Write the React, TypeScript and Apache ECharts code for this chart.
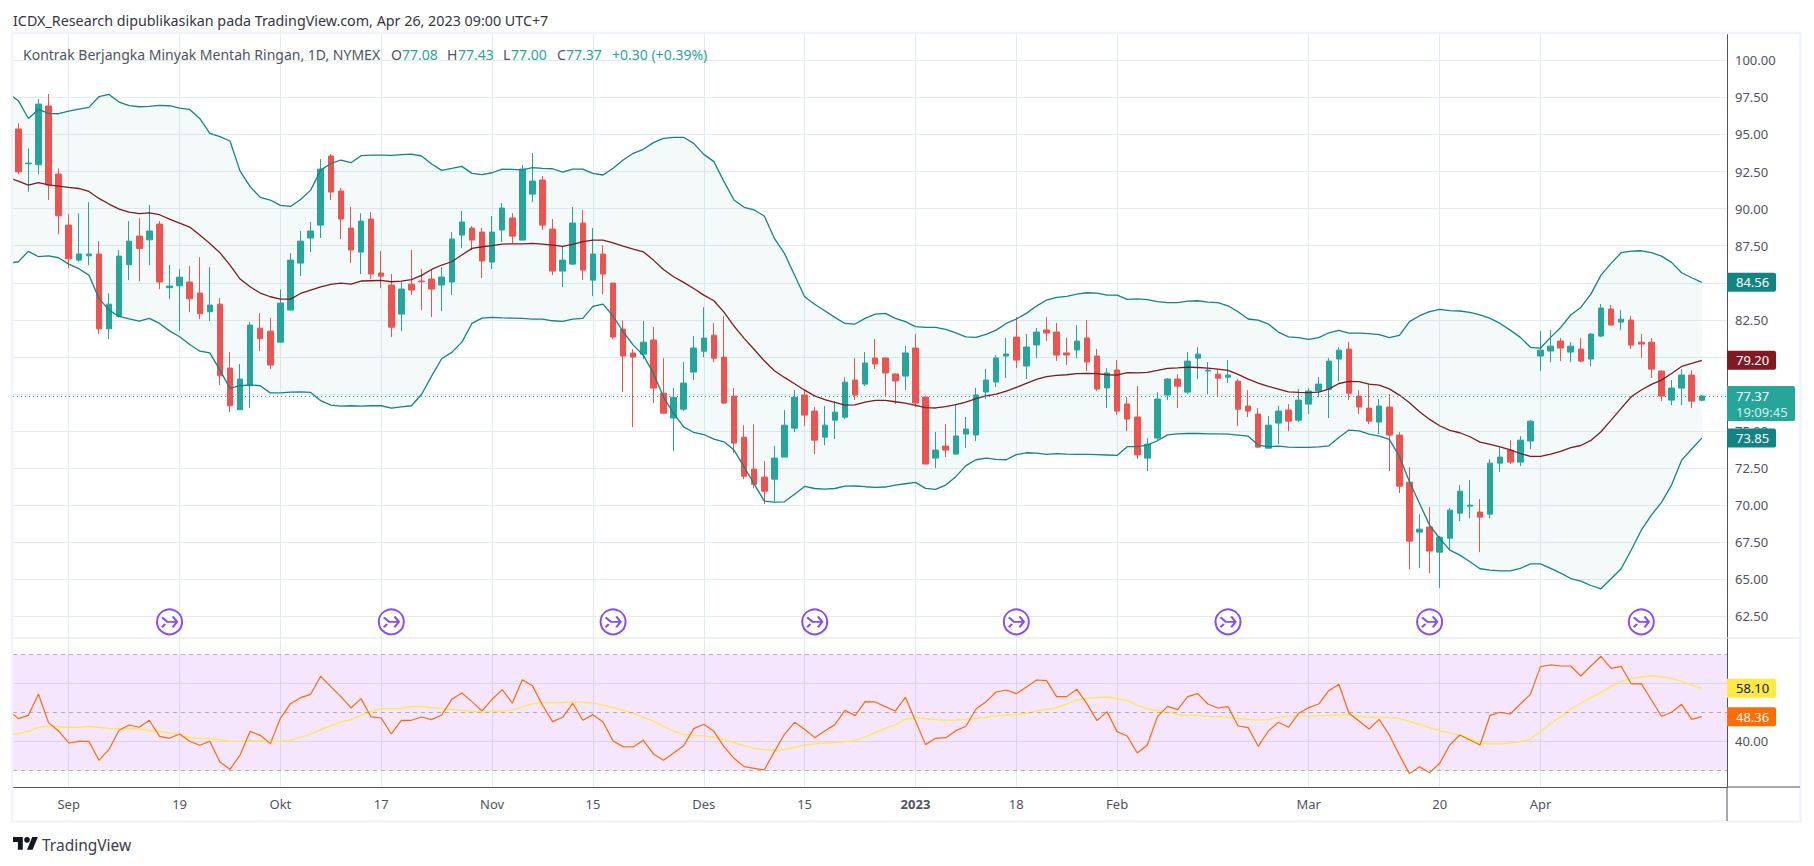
import React, { useEffect, useRef } from "react";
import * as echarts from "echarts";

const opens = [
95.37,93.03,92.96,96.92,92.33,88.89,86.53,86.82,86.94,81.9,
82.75,86.22,88.15,87.9,88.96,84.67,84.8,85.05,84.31,83.05,
83.56,79.25,76.44,78.06,81.94,81.74,81.0,83.16,86.33,88.02,
88.89,93.55,91.19,88.69,87.07,89.3,85.66,84.85,82.89,84.91,
85.12,85.25,84.85,85.05,88.22,88.69,88.42,86.4,88.56,89.37,
87.88,90.98,91.93,88.62,85.79,86.26,89.03,85.18,86.94,84.98,
81.88,80.26,80.19,81.14,77.56,75.88,76.48,78.98,80.39,81.47,
79.99,77.36,74.59,72.44,71.9,71.76,73.25,75.2,77.43,76.35,
74.59,75.74,75.94,78.44,78.17,79.93,79.93,78.85,78.71,80.6,
77.3,73.18,73.99,73.45,74.8,74.74,77.64,78.31,80.06,81.34,
79.39,80.81,81.82,81.68,80.27,80.47,81.28,80.06,77.91,79.12,
76.83,75.95,73.18,74.53,77.43,78.51,77.63,79.92,79.05,78.84,
78.64,78.37,76.69,76.15,73.85,75.54,76.42,75.74,76.82,77.7,
77.83,79.86,80.53,77.36,76.55,75.61,76.62,74.73,71.56,68.19,
68.53,66.84,67.78,69.47,69.94,69.54,69.4,72.84,73.72,72.91,
74.33,80.06,80.4,81.07,80.33,80.53,79.86,81.41,83.23,82.35,
82.49,81.0,81.0,79.05,77.09,77.9,78.78,77.08];
const closes = [
92.49,93.07,97.05,91.59,89.52,86.62,86.94,86.94,81.9,83.56,
86.8,87.81,87.32,88.49,85.05,84.78,85.38,83.92,82.91,83.5,
78.73,76.71,78.51,82.15,81.23,79.45,83.63,86.53,87.81,88.49,
92.67,91.12,89.3,87.21,89.16,85.59,85.45,82.01,84.58,84.51,
85.07,84.58,85.39,87.95,89.1,87.88,86.47,88.42,90.04,88.15,
92.67,91.86,88.89,85.79,86.53,89.03,85.86,86.94,85.59,81.34,
80.06,79.99,81.0,77.9,76.21,77.29,78.24,80.6,81.27,79.92,
76.89,74.19,71.96,71.42,70.95,73.18,75.4,77.29,76.08,74.39,
75.4,76.28,78.3,77.43,79.59,79.52,78.92,78.38,80.27,76.89,
72.78,73.72,73.72,74.67,75.14,77.43,78.44,79.93,80.2,79.79,
80.67,81.68,81.61,80.13,80.13,81.07,79.66,77.84,78.92,76.35,
75.81,73.39,74.12,77.16,78.51,78.03,79.72,80.19,79.11,78.57,
78.78,76.48,76.35,73.92,75.4,76.35,75.67,77.09,77.7,78.17,
79.72,80.46,77.56,76.62,75.67,76.69,74.73,71.29,67.58,68.39,
66.91,67.85,69.67,70.95,70.01,69.2,72.84,73.25,72.91,74.39,
75.67,80.46,80.73,80.6,80.73,79.72,81.54,83.3,82.15,82.55,
80.8,80.87,79.18,77.36,77.9,78.78,77.02,77.37];
const lows = [
92.33,91.14,92.33,90.58,88.28,85.99,86.42,86.19,81.54,81.2,
82.66,85.18,85.11,86.19,84.57,83.9,81.74,83.02,82.55,82.42,
78.1,76.28,76.42,76.55,80.39,79.18,80.93,83.16,85.45,87.07,
88.02,90.58,87.95,86.33,85.59,85.25,84.64,81.34,81.74,84.17,
83.16,82.69,83.09,84.17,87.34,87.21,85.32,85.93,87.75,87.66,
87.88,90.44,88.56,85.52,84.71,86.2,85.19,84.1,84.24,81.23,
77.63,75.27,79.85,76.89,76.21,73.65,76.35,78.44,79.99,79.65,
76.82,73.52,71.76,71.15,70.08,70.28,73.25,74.93,75.34,73.45,
74.05,74.46,75.81,77.09,78.04,79.19,77.37,76.83,77.77,76.62,
72.78,72.51,73.25,73.45,73.86,74.33,77.16,77.97,78.58,79.25,
78.51,79.93,81.07,79.73,79.46,79.93,79.05,77.7,76.56,76.08,
75.0,73.12,72.3,74.39,77.09,76.55,77.49,78.51,77.49,77.29,
78.24,75.34,75.94,73.85,73.85,74.12,75.0,75.61,76.15,77.29,
75.88,78.37,77.09,76.15,75.47,74.8,72.3,70.82,65.69,65.76,
65.42,64.41,66.98,68.93,69.13,66.84,69.13,72.24,72.78,72.64,
73.79,79.05,79.65,79.72,79.65,79.65,79.38,81.34,82.15,81.81,
80.53,79.92,78.58,77.02,76.75,76.75,76.55,77.0];
const highs = [
95.75,94.06,97.39,97.73,92.71,89.63,89.68,90.44,87.81,84.28,
87.2,89.16,89.36,90.24,89.16,86.19,85.92,86.13,86.73,86.06,
83.97,80.33,79.52,82.35,82.96,82.62,84.55,87.0,88.49,89.1,
93.34,93.68,91.39,90.11,89.68,89.77,87.14,85.59,85.05,87.21,
85.93,85.86,86.06,88.42,89.84,88.83,88.69,89.5,90.38,89.7,
92.94,93.75,92.2,89.3,87.48,90.11,89.91,88.69,87.54,85.0,
82.48,80.53,82.42,82.01,79.92,77.9,79.65,81.41,83.36,82.28,
82.75,77.9,75.4,75.47,72.98,74.0,76.42,77.76,77.83,76.62,
76.69,77.02,78.64,79.92,80.33,81.21,79.95,78.9,80.74,81.55,
77.4,74.94,75.48,76.76,75.95,77.91,79.19,80.13,81.28,82.69,
81.55,81.95,82.69,82.29,81.28,82.15,82.49,80.54,79.25,79.79,
77.3,78.04,74.53,77.63,78.57,78.84,80.33,80.66,79.65,79.18,
79.79,78.51,77.76,76.55,76.01,76.69,76.82,77.83,77.9,78.64,
79.92,80.66,81.0,77.76,78.17,77.16,77.49,74.93,72.57,69.4,
69.88,67.92,69.81,71.36,71.7,70.41,73.11,73.92,74.39,74.66,
75.74,81.74,81.81,81.27,81.0,81.27,81.61,83.57,83.5,83.16,
82.76,81.54,81.27,79.11,78.44,79.18,79.11,77.43];

// bands and RSI begin one bar before the first candle (they run off the left edge)
const upperBand = [97.77,
97.28,96.08,96.69,96.42,96.4,96.58,96.71,96.83,97.55,97.7,
97.19,96.94,96.87,96.89,96.96,96.94,96.78,96.69,96.08,95.07,
94.85,94.56,92.53,91.48,90.76,90.58,90.22,90.15,90.62,91.25,
92.6,93.05,93.28,93.1,93.57,93.61,93.61,93.59,93.64,93.68,
93.55,93.01,92.58,92.71,92.85,92.38,92.29,92.42,92.67,92.65,
92.62,92.76,92.71,92.69,92.47,92.67,92.67,92.38,92.27,92.72,
93.28,93.73,94.0,94.45,94.74,94.81,94.81,94.4,93.66,93.17,
91.82,90.58,90.09,89.91,89.5,88.0,86.98,85.52,84.06,83.55,
83.12,82.67,82.26,82.22,82.6,82.89,82.94,82.6,82.38,82.04,
81.99,81.99,81.86,81.63,81.36,81.32,81.52,81.81,82.26,82.56,
82.94,83.43,83.84,84.02,84.09,84.24,84.33,84.31,84.17,84.17,
83.88,83.91,83.86,83.73,83.66,83.66,83.77,83.79,83.7,83.66,
83.45,83.05,82.56,82.49,82.22,81.68,81.36,81.3,81.18,81.3,
81.63,81.79,81.61,81.61,81.57,81.5,81.3,81.45,82.38,82.78,
83.05,83.21,83.12,83.1,83.01,82.83,82.6,82.26,81.81,81.32,
80.65,80.6,81.32,81.99,82.83,83.34,84.24,85.52,86.31,87.03,
87.14,87.16,87.03,86.8,86.38,85.68,85.34,85.03];
const basisBand = [92.1,
91.86,91.59,91.75,91.61,91.52,91.43,91.36,91.16,90.69,90.31,
89.97,89.77,89.66,89.72,89.59,89.3,89.03,88.76,88.22,87.65,
87.03,86.19,85.25,84.73,84.31,84.06,83.9,83.9,84.28,84.51,
84.73,84.89,84.98,84.91,85.12,85.14,85.16,85.07,85.12,85.21,
85.5,85.9,86.2,86.42,86.87,87.32,87.43,87.5,87.61,87.63,
87.63,87.66,87.61,87.54,87.45,87.59,87.77,87.88,87.88,87.7,
87.48,87.27,87.09,86.53,85.9,85.41,85.03,84.62,84.17,83.79,
83.02,82.08,81.25,80.5,79.74,79.07,78.62,78.19,77.76,77.38,
77.13,76.93,76.75,76.77,76.96,77.07,77.07,76.98,76.89,76.74,
76.58,76.56,76.65,76.78,76.96,77.19,77.37,77.5,77.7,77.95,
78.22,78.49,78.67,78.76,78.8,78.87,78.89,78.87,78.8,78.78,
78.94,78.92,78.96,79.09,79.23,79.27,79.32,79.29,79.25,79.18,
79.09,78.82,78.51,78.24,78.01,77.83,77.65,77.61,77.59,77.63,
77.83,78.21,78.35,78.33,78.17,78.1,77.85,77.43,76.91,76.3,
75.79,75.36,75.05,74.89,74.62,74.26,74.1,73.94,73.74,73.49,
73.3,73.3,73.45,73.63,73.88,74.03,74.37,74.96,75.74,76.53,
77.32,77.77,78.15,78.44,78.89,79.36,79.56,79.77];
const lowerBand = [86.31,
86.42,87.12,86.76,86.82,86.69,86.26,85.95,85.52,83.95,83.16,
82.73,82.57,82.42,82.6,82.26,81.76,81.36,80.84,80.39,80.28,
79.11,77.88,78.06,78.12,78.06,77.58,77.58,77.63,77.65,77.61,
77.05,76.75,76.69,76.71,76.69,76.71,76.71,76.55,76.64,76.71,
77.47,78.71,79.88,80.31,81.0,82.26,82.62,82.67,82.64,82.62,
82.6,82.55,82.55,82.44,82.4,82.55,82.6,83.41,83.56,82.75,
81.7,80.8,80.12,78.89,77.31,76.19,75.29,74.91,74.77,74.46,
74.28,73.72,72.59,71.42,70.28,70.21,70.23,70.75,71.27,71.13,
71.09,71.13,71.29,71.3,71.25,71.21,71.23,71.36,71.45,71.54,
71.14,71.07,71.36,71.93,72.67,73.07,73.18,73.09,73.07,73.41,
73.54,73.52,73.43,73.48,73.45,73.43,73.43,73.41,73.39,73.36,
73.95,73.95,74.06,74.35,74.75,74.82,74.84,74.84,74.82,74.82,
74.8,74.73,74.66,74.06,73.94,73.99,73.92,73.9,73.9,73.94,
74.01,74.57,75.07,75.02,74.8,74.66,74.44,73.3,71.58,70.12,
68.66,67.76,66.98,66.64,66.19,65.72,65.63,65.58,65.58,65.74,
66.05,66.05,65.74,65.42,65.06,64.88,64.59,64.37,65.04,65.72,
66.98,68.32,69.34,70.19,71.36,73.04,73.79,74.53];
const rsiValues = [50.8,
47.81,48.96,56.32,46.43,43.56,39.42,40.0,40.0,33.45,37.24,
43.79,45.63,44.83,47.24,41.72,41.03,42.53,40.0,38.62,40.0,
32.87,30.34,35.28,43.44,42.06,39.19,47.93,52.98,55.05,56.2,
62.41,58.85,55.4,51.49,54.71,48.39,48.04,42.53,47.24,47.24,
48.39,47.47,49.08,54.48,56.66,53.67,50.46,54.48,57.81,53.2,
61.26,59.19,52.41,46.78,48.27,53.1,47.24,49.19,46.66,40.11,
38.16,38.04,40.34,35.63,33.45,35.97,38.5,44.36,45.86,43.44,
38.16,34.13,31.26,30.69,30.11,36.43,42.41,46.55,44.14,41.26,
43.56,45.75,50.69,48.85,53.67,53.56,51.95,50.46,55.17,47.0,
38.85,41.03,41.26,43.67,45.17,51.15,53.67,57.01,57.7,56.43,
58.73,61.14,60.91,55.4,55.4,57.93,52.98,47.12,50.23,43.33,
41.83,35.97,38.73,48.5,52.06,50.91,55.4,56.43,52.87,51.49,
51.95,45.28,44.71,38.27,43.56,46.55,44.83,49.65,51.6,52.87,
57.47,59.65,49.65,47.0,44.25,47.58,42.18,35.28,28.85,31.26,
29.19,32.41,38.73,42.18,40.46,38.73,48.96,50.0,49.42,52.87,
56.2,65.74,66.32,65.97,65.97,62.53,65.97,69.31,65.17,65.86,
59.77,59.88,54.25,48.62,50.0,52.75,47.58,48.5];
const rsiAverage = [41.95,
42.64,43.44,44.83,45.28,45.05,44.83,44.83,45.17,44.83,44.48,
44.36,44.48,44.25,43.79,43.44,42.87,41.95,41.26,41.03,41.03,
40.57,40.0,40.11,40.34,40.23,40.0,40.11,40.34,41.38,42.53,
44.02,45.4,46.66,47.47,49.08,50.23,51.26,51.26,51.38,52.06,
52.06,51.6,51.26,51.03,50.69,50.34,50.11,50.34,50.46,50.8,
51.83,52.98,53.33,53.33,53.33,53.56,53.44,53.2,52.52,51.6,
50.69,49.65,48.27,47.0,45.17,43.56,42.41,42.06,41.83,41.38,
40.69,39.54,38.5,37.59,37.13,36.89,37.13,37.93,38.73,39.08,
39.42,39.54,39.88,40.23,41.49,42.99,44.48,45.63,47.58,48.16,
47.81,47.47,47.24,47.35,47.58,47.93,48.27,48.73,49.08,49.31,
49.65,50.46,51.03,51.6,52.87,54.25,54.82,55.05,55.28,54.82,
54.02,52.52,51.15,50.57,50.0,49.31,48.96,48.96,48.62,48.5,
48.27,47.93,47.58,47.35,47.47,48.27,48.73,48.73,48.73,48.85,
48.96,49.19,49.08,48.62,48.27,48.27,48.16,47.93,46.89,45.86,
44.71,43.67,42.87,42.18,41.03,39.31,39.08,39.08,39.42,39.88,
40.8,43.33,46.2,48.5,51.03,53.1,55.05,56.89,58.85,60.69,
61.49,62.29,62.53,62.29,61.72,60.69,59.42,58.27];

const priceTicks = [62.5,65,67.5,70,72.5,75,77.5,80,82.5,85,87.5,90,92.5,95,97.5,100];
const rsiTicks = [40,60];
const dateTickBars = [5,16,26,36,47,57,68,78,89,99,109,128,141,151];
const dateTickLabels = ["Sep","19","Okt","17","Nov","15","Des","15","2023","18","Feb","Mar","20","Apr"];
const rolloverBars = [15,37,59,79,99,120,140,161];
const rolloverLevel = 62.14;
const lastPrice = 77.37;
const rsiLevels = [70,50,30];

const TEXT = "#50535e";
const GRID = "#e3ecf2";
const UP = "#26a69a";
const DOWN = "#ef5350";
const BAND = "#138484";
const BASIS = "#801922";
const FONT = "'Noto Sans', sans-serif";

echarts.graphic.registerShape(
  "tvLogo",
  echarts.graphic.extendPath("M14 22H7V11H0V4h14v18zM28 22h-8l7.5-18h8L28 22zM24 8a4 4 0 1 1-8 0a4 4 0 1 1 8 0z", {})
);

const xy = (arr: number[]) => arr.map((v, i) => [i - 1, v]);

export default function App() {
  const ref = useRef<HTMLDivElement>(null);
  useEffect(() => {
    document.body.style.margin = "0";
    document.body.style.background = "#fff";
    const chart = echarts.init(ref.current!, undefined, { renderer: "svg" });
    const xMin = -0.526, xMax = 169.5;
    const xBase = {
      type: "value", min: xMin, max: xMax,
      splitLine: { show: true, lineStyle: { color: GRID, width: 1 } },
      axisTick: { show: false, customValues: dateTickBars },
    };
    const renderBandFill = (params: any, api: any) => {
      const top = upperBand.map((v, i) => api.coord([i - 1, v]));
      const bottom = lowerBand.map((v, i) => api.coord([i - 1, v])).reverse();
      const cs = params.coordSys;
      const points = echarts.graphic.clipPointsByRect(top.concat(bottom), {
        x: cs.x, y: cs.y, width: cs.width, height: cs.height,
      });
      return { type: "polygon", shape: { points }, style: { fill: "rgba(38,166,154,0.05)" }, silent: true };
    };
    chart.setOption({
      animation: false,
      backgroundColor: "#fff",
      grid: [
        { left: 13, width: 1714, top: 33.5, height: 604.5 },
        { left: 13, width: 1714, top: 638, height: 149 },
      ],
      xAxis: [
        { ...xBase, gridIndex: 0, axisLine: { show: false },
          axisLabel: { show: false, customValues: dateTickBars } },
        { ...xBase, gridIndex: 1,
          axisLine: { show: true, lineStyle: { color: TEXT, width: 1 } },
          axisLabel: {
            show: true, customValues: dateTickBars, margin: 10, color: TEXT, fontFamily: FONT, fontSize: 13,
            formatter: (v: number) => {
              const t = dateTickLabels[dateTickBars.indexOf(Math.round(v))] ?? "";
              return t === "2023" ? "{b|2023}" : t;
            },
            rich: { b: { fontWeight: "bold", fontSize: 13, color: TEXT, fontFamily: FONT } },
          } },
      ],
      yAxis: [
        { type: "value", gridIndex: 0, position: "right", min: 61.05, max: 101.81,
          axisLine: { show: true, onZero: false, lineStyle: { color: TEXT, width: 1 } },
          axisTick: { show: false, customValues: priceTicks },
          splitLine: { show: true, lineStyle: { color: GRID, width: 1 } },
          axisLabel: { customValues: priceTicks, margin: 8, color: TEXT, fontFamily: FONT, fontSize: 13,
            formatter: (v: number) => v.toFixed(2) } },
        { type: "value", gridIndex: 1, position: "right", min: 24.24, max: 75.62,
          axisLine: { show: true, onZero: false, lineStyle: { color: TEXT, width: 1 } },
          axisTick: { show: false, customValues: rsiTicks },
          splitLine: { show: true, lineStyle: { color: GRID, width: 1 } },
          axisLabel: { customValues: rsiTicks, margin: 8, color: TEXT, fontFamily: FONT, fontSize: 13,
            formatter: (v: number) => v.toFixed(2) } },
      ],
      series: [
        { type: "custom", name: "bandFill", coordinateSystem: "cartesian2d", xAxisIndex: 0, yAxisIndex: 0,
          renderItem: renderBandFill, data: [[0, lowerBand[1]]], silent: true, z: 1 },
        { type: "line", name: "Upper", xAxisIndex: 0, yAxisIndex: 0, symbol: "none", data: xy(upperBand),
          lineStyle: { color: BAND, width: 1.3 } },
        { type: "line", name: "Lower", xAxisIndex: 0, yAxisIndex: 0, symbol: "none", data: xy(lowerBand),
          lineStyle: { color: BAND, width: 1.3 } },
        { type: "line", name: "Basis", xAxisIndex: 0, yAxisIndex: 0, symbol: "none", data: xy(basisBand),
          lineStyle: { color: BASIS, width: 1.3 } },
        { type: "candlestick", name: "CL1!", xAxisIndex: 0, yAxisIndex: 0, barWidth: 6,
          data: opens.map((o, i) => [i, o, closes[i], lows[i], highs[i]]),
          itemStyle: { color: UP, color0: DOWN, borderColor: UP, borderColor0: DOWN, borderWidth: 1 },
          markLine: { silent: true, symbol: "none", label: { show: false }, animation: false,
            lineStyle: { color: UP, type: [1, 3], width: 1 }, data: [{ yAxis: lastPrice }] } },
        { type: "scatter", name: "Rollover", xAxisIndex: 0, yAxisIndex: 0, symbol: "circle", symbolSize: 25,
          data: rolloverBars.map((b) => [b, rolloverLevel]),
          itemStyle: { color: "#ffffff", borderColor: "#651fff", borderWidth: 2 }, silent: true },
        { type: "scatter", name: "RolloverArrow", xAxisIndex: 0, yAxisIndex: 0, symbolSize: [15, 11],
          symbol: "path://M0 1 L5 5 L14 5 M10 0 L14 5 L10 10 M0 10 L3 7",
          data: rolloverBars.map((b) => [b, rolloverLevel]),
          itemStyle: { color: "none", borderColor: "#651fff", borderWidth: 2 }, silent: true },
        { type: "line", name: "RSI", xAxisIndex: 1, yAxisIndex: 1, symbol: "none", data: xy(rsiValues),
          lineStyle: { color: "#ff6d00", width: 1.2 }, z: 4,
          markArea: { silent: true, itemStyle: { color: "rgba(155,0,240,0.1)" },
            data: [[{ yAxis: rsiLevels[2] }, { yAxis: rsiLevels[0] }]] },
          markLine: { silent: true, symbol: "none", label: { show: false },
            lineStyle: { color: "rgba(120,123,134,0.55)", type: [4, 4], width: 1 },
            data: rsiLevels.map((l) => ({ yAxis: l })) } },
        { type: "line", name: "RSI MA", xAxisIndex: 1, yAxisIndex: 1, symbol: "none", data: xy(rsiAverage),
          lineStyle: { color: "#ffeb3b", width: 1.2 }, z: 3 },
      ],
    });

    const py = (v: number) => chart.convertToPixel({ yAxisIndex: 0 }, v) as number;
    const ry = (v: number) => chart.convertToPixel({ yAxisIndex: 1 }, v) as number;
    const last = (a: number[]) => a[a.length - 1];
    const tag = (y: number, label: string, bg: string, fg: string) => ({
      type: "group", z: 50, children: [
        { type: "rect", z: 50, shape: { x: 1727, y: y - 9.5, width: 49, height: 19, r: [0, 2, 2, 0] }, style: { fill: bg } },
        { type: "text", z: 51, x: 1736, y, style: { text: label, fill: fg, font: `13px ${FONT}`, textVerticalAlign: "middle" } },
      ],
    });
    const legendY = 54;
    const leg = (x: number, text: string, fill: string) => ({
      type: "text", z: 40, x, y: legendY,
      style: { text, fill, font: `14px ${FONT}`, textVerticalAlign: "middle" },
    });
    const lpy = py(lastPrice);
    chart.setOption({
      graphic: [
        { type: "rect", z: 30, shape: { x: 12, y: 33, width: 1788.5, height: 788.5 }, style: { fill: "none", stroke: "#f0f3fa", lineWidth: 2.5 } },
        { type: "line", z: 31, shape: { x1: 13, y1: 638, x2: 1800, y2: 638 }, style: { stroke: "#e0e3eb", lineWidth: 1 } },
        { type: "line", z: 31, shape: { x1: 1727, y1: 787, x2: 1800, y2: 787 }, style: { stroke: TEXT, lineWidth: 1 } },
        { type: "line", z: 31, shape: { x1: 1727, y1: 787, x2: 1727, y2: 821 }, style: { stroke: TEXT, lineWidth: 1 } },
        { type: "text", z: 40, x: 13, y: 20, style: { text: "ICDX_Research dipublikasikan pada TradingView.com, Apr 26, 2023 09:00 UTC+7", fill: "#333640", font: `14.3px ${FONT}`, textVerticalAlign: "middle" } },
        leg(23, "Kontrak Berjangka Minyak Mentah Ringan, 1D, NYMEX", TEXT),
        leg(391, "O", TEXT), leg(402, "77.08", UP),
        leg(447, "H", TEXT), leg(458, "77.43", UP),
        leg(503, "L", TEXT), leg(511, "77.00", UP),
        leg(557, "C", TEXT), leg(566, "77.37", UP),
        leg(612, "+0.30 (+0.39%)", UP),
        tag(py(last(upperBand)), "84.56", "#138484", "#ffffff"),
        tag(py(last(basisBand)), "79.20", "#801922", "#ffffff"),
        tag(py(last(lowerBand)), "73.85", "#138484", "#ffffff"),
        { type: "group", z: 50, children: [
          { type: "rect", z: 50, shape: { x: 1727, y: lpy - 10, width: 68, height: 35, r: [0, 2, 2, 0] }, style: { fill: UP } },
          { type: "text", z: 51, x: 1736, y: lpy, style: { text: "77.37", fill: "#ffffff", font: `13px ${FONT}`, textVerticalAlign: "middle" } },
          { type: "text", z: 51, x: 1736, y: lpy + 16, style: { text: "19:09:45", fill: "#d4f0ec", font: `13px ${FONT}`, textVerticalAlign: "middle" } },
        ] },
        tag(ry(last(rsiAverage)), "58.10", "#ffeb3b", "#131722"),
        tag(ry(last(rsiValues)), "48.36", "#ff6d00", "#ffffff"),
        { type: "tvLogo", z: 40, x: 13, y: 834, scaleX: 0.7, scaleY: 0.72, style: { fill: "#131722" } },
        { type: "text", z: 40, x: 42, y: 845, style: { text: "TradingView", fill: "#3a3d47", font: `15.5px ${FONT}`, textVerticalAlign: "middle" } },
      ],
    });
    return () => chart.dispose();
  }, []);
  return <div ref={ref} style={{ width: 1814, height: 866 }} />;
}
